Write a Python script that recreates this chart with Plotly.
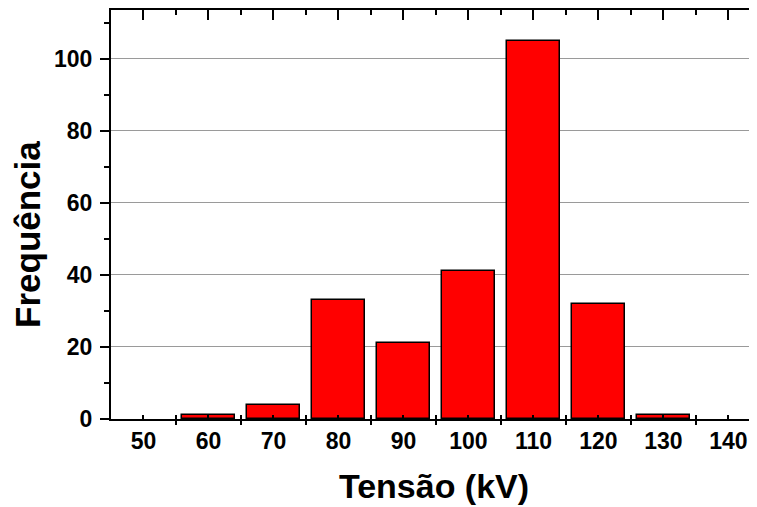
import plotly.graph_objects as go

# ---- data ----
categories = [50, 60, 70, 80, 90, 100, 110, 120, 130, 140]
frequencies = [0, 1, 4, 33, 21, 41, 105, 32, 1, 0]
tick_labels = [str(c) for c in categories]
bin_edges = [55, 65, 75, 85, 95, 105, 115, 125, 135]

FONT = "Liberation Sans, Arial, sans-serif"
XRANGE = [45, 144.4]
YRANGE = [0, 113.6]

# the page body has an 8px default margin, so the figure is 8px smaller
fig = go.Figure()
fig.add_trace(go.Bar(
    x=categories, y=frequencies, width=8.1,
    marker=dict(color="#ff0000",
                line=dict(color="black", width=[1.5 if v > 0 else 0 for v in frequencies])),
    showlegend=False, hoverinfo="x+y",
))
# dummy traces to create overlay axes
for xa in ["x2", "x3", "x4", "x5"]:
    fig.add_trace(go.Scatter(x=[None], y=[None], xaxis=xa, yaxis="y",
                             showlegend=False, hoverinfo="skip"))
fig.add_trace(go.Scatter(x=[None], y=[None], xaxis="x", yaxis="y2",
                         showlegend=False, hoverinfo="skip"))

common_x = dict(range=XRANGE, showgrid=False, zeroline=False, automargin=False,
                tickcolor="black", tickwidth=1.5, fixedrange=True)

fig.update_layout(
    width=749, height=499,
    margin=dict(l=103, r=0, t=2, b=88),
    paper_bgcolor="white", plot_bgcolor="white",
    bargap=0,
    font=dict(family=FONT, color="black"),
    xaxis=dict(
        **common_x,
        tickmode="array", tickvals=categories, ticktext=tick_labels,
        ticks="inside", ticklen=4,
        showline=True, linecolor="black", linewidth=2, mirror=False,
        tickfont=dict(family=FONT, size=23, weight="bold", color="black"),
        ticklabelstandoff=0,
        title=dict(text="Tensão (kV)", standoff=22,
                   font=dict(family=FONT, size=34, weight="bold", color="black")),
    ),
    xaxis2=dict(**common_x, overlaying="x", anchor="y", side="bottom",
                tickmode="array", tickvals=bin_edges, ticks="outside", ticklen=5,
                showticklabels=False, showline=False),
    xaxis3=dict(**common_x, overlaying="x", anchor="y", side="bottom",
                tickmode="array", tickvals=bin_edges, ticks="inside", ticklen=4,
                showticklabels=False, showline=False),
    xaxis4=dict(**common_x, overlaying="x", anchor="y", side="top",
                tickmode="array", tickvals=categories, ticks="inside", ticklen=10,
                showticklabels=False, showline=True, linecolor="black", linewidth=2),
    xaxis5=dict(**common_x, overlaying="x", anchor="y", side="top",
                tickmode="array", tickvals=bin_edges, ticks="inside", ticklen=5,
                showticklabels=False, showline=False),
    yaxis=dict(
        range=YRANGE, tickmode="linear", tick0=0, dtick=20,
        ticks="outside", ticklen=9, tickwidth=1.5, tickcolor="black",
        minor=dict(dtick=10, tick0=0, ticks="outside", ticklen=5, tickwidth=1.5,
                   tickcolor="black", showgrid=False),
        showline=True, linecolor="black", linewidth=2,
        showgrid=True, gridcolor="#9a9a9a", gridwidth=1,
        zeroline=False, automargin=False, fixedrange=True,
        tickfont=dict(family=FONT, size=23, weight="bold", color="black"),
        ticklabelstandoff=3,
    ),
    yaxis2=dict(
        range=YRANGE, overlaying="y", anchor="x", side="right",
        tickmode="linear", tick0=0, dtick=20,
        ticks="inside", ticklen=5, tickwidth=1.5, tickcolor="black",
        minor=dict(dtick=10, tick0=0, ticks="inside", ticklen=2, tickwidth=1.5,
                   tickcolor="black", showgrid=False),
        showline=False, showgrid=False, zeroline=False, showticklabels=False,
        automargin=False, fixedrange=True,
    ),
    annotations=[dict(
        text="Frequência", textangle=-90, showarrow=False,
        xref="paper", yref="paper", x=0, y=0.45, xanchor="center", yanchor="middle",
        xshift=-83,
        font=dict(family=FONT, size=35, weight="bold", color="black"),
    )],
)

fig.write_html("out.html")
